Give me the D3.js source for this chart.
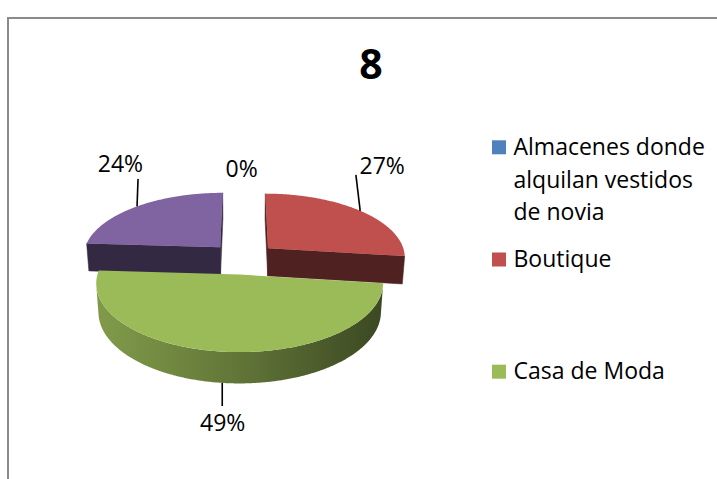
<!DOCTYPE html>
<html>
<head>
<meta charset="utf-8">
<script src="https://cdn.jsdelivr.net/npm/d3@7"></script>
<style>
  html, body { margin: 0; padding: 0; background: #ffffff; }
  svg { display: block; }
  text { font-family: "Open Sans", "Noto Sans", sans-serif; fill: #000; }
</style>
</head>
<body>
<svg id="chart" width="717" height="479"></svg>
<script>
// ---- data ----
const title = "8";
const categories = ["Almacenes donde alquilan vestidos de novia", "Boutique", "Casa de Moda", ""];
const values = [0, 27, 49, 24];
const colors = ["#4F81BD", "#C0504D", "#9BBB59", "#8064A2"];

// ---- 3D pie geometry ----
const cx = 243, cy = 258.5;      // screen position of the pie's centre
const R = 138;                   // radius (world units ~ px)
const H = 32;                    // thickness of the pie
const explode = 34;              // distance each slice is pulled out
const D = 1000;                  // camera distance (perspective)
const tilt = 27.5 * Math.PI / 180;
const sinT = Math.sin(tilt), cosT = Math.cos(tilt);
const cam = [0, D * sinT, -D * cosT];

function project(p) {
  const [x, y, z] = p;
  const Y = y * cosT + z * sinT;
  const Z = z * cosT - y * sinT;
  const s = D / (D + Z);
  return [cx + x * s, cy - Y * s];
}
function faces(n, p) {
  return n[0] * (cam[0] - p[0]) + n[1] * (cam[1] - p[1]) + n[2] * (cam[2] - p[2]) > 0;
}

const svg = d3.select("#chart");
const defs = svg.append("defs");

// chart frame
svg.append("rect")
  .attr("x", 8).attr("y", 18).attr("width", 760).attr("height", 520)
  .attr("fill", "none").attr("stroke", "#8a8a8a").attr("stroke-width", 2);

// title
svg.append("text")
  .attr("x", 371).attr("y", 78.5)
  .attr("text-anchor", "middle")
  .style("font-size", "41px").style("font-weight", "bold")
  .text(title);

const data = categories.map((c, i) => ({ name: c, value: values[i], color: colors[i], index: i }));
const total = d3.sum(values);
const pct = d3.format(".0%");
const arcs = d3.pie().sort(null).value(d => d.value)(data);

const color = d3.scaleOrdinal().domain(categories).range(colors);
const line = d3.line();

arcs.forEach(a => {
  a.mid = (a.startAngle + a.endAngle) / 2;
  a.ox = explode * Math.sin(a.mid);
  a.oz = explode * Math.cos(a.mid);
});
const rim = (a, t, y, r = R) => [a.ox + r * Math.sin(t), y, a.oz + r * Math.cos(t)];

// curved side shading: lighter on the left, darker on the right
const sideShade = d3.scaleLinear().domain([-1, 0, 1]).range([0.82, 0.62, 0.39]);
function scaled(c, f) {
  const k = d3.rgb(c);
  return d3.rgb(k.r * f, k.g * f, k.b * f).formatHex();
}

const gPie = svg.append("g");
// paint back slices first
const order = arcs.filter(a => a.endAngle - a.startAngle > 1e-6)
  .sort((a, b) => b.oz - a.oz);

order.forEach(a => {
  const base = color(a.data.name);
  const g = gPie.append("g");
  const step = Math.PI / 360;
  const n = Math.max(2, Math.ceil((a.endAngle - a.startAngle) / step));
  const thetas = d3.range(n + 1).map(i => a.startAngle + (a.endAngle - a.startAngle) * i / n);

  // outer curved side (only the part turned towards the camera)
  const vis = thetas.filter(t => faces([Math.sin(t), 0, Math.cos(t)], rim(a, t, 0)));
  if (vis.length > 1) {
    const top = vis.map(t => project(rim(a, t, 0)));
    const bot = vis.slice().reverse().map(t => project(rim(a, t, -H)));
    const pts = top.concat(bot);
    const gid = "side" + a.index;
    const grad = defs.append("linearGradient").attr("id", gid)
      .attr("gradientUnits", "userSpaceOnUse")
      .attr("x1", cx - R).attr("x2", cx + R).attr("y1", 0).attr("y2", 0);
    [-1, -0.5, 0, 0.5, 1].forEach(v => {
      grad.append("stop").attr("offset", (v + 1) / 2).attr("stop-color", scaled(base, sideShade(v)));
    });
    g.append("path").attr("d", line(pts) + "Z").attr("fill", `url(#${gid})`);
  }

  // flat radial faces
  const apexT = [a.ox, 0, a.oz], apexB = [a.ox, -H, a.oz];
  const radial = [
    { t: a.startAngle, n: [-Math.cos(a.startAngle), 0, Math.sin(a.startAngle)] },
    { t: a.endAngle, n: [Math.cos(a.endAngle), 0, -Math.sin(a.endAngle)] }
  ];
  radial.forEach(f => {
    if (faces(f.n, apexT)) {
      const pts = [apexT, rim(a, f.t, 0), rim(a, f.t, -H), apexB].map(project);
      g.append("path").attr("d", line(pts) + "Z")
        .attr("fill", scaled(base, 0.41))
        .attr("stroke", scaled(base, 0.41)).attr("stroke-width", 0.5);
    }
  });

  // top face
  const topPts = [project(apexT)].concat(thetas.map(t => project(rim(a, t, 0))));
  g.append("path").attr("d", line(topPts) + "Z").attr("fill", base);
});

// ---- data labels with leader lines ----
const labelLayout = {
  0: { line: null, text: [-1.3, -13] },
  1: { line: [-4.3, -36], text: [22, -37] },
  2: { line: [-2, 23], text: [-1.5, 48] },
  3: { line: [1, -27.5], text: [-16.6, -34] }
};
const gLab = svg.append("g");
arcs.forEach(a => {
  const front = Math.cos(a.mid) < 0;
  const anchor = project(rim(a, a.mid, front ? -H : 0));
  const lay = labelLayout[a.index];
  if (lay.line) {
    const x0 = front ? anchor[0] + lay.line[0] : anchor[0];
    gLab.append("line")
      .attr("x1", x0).attr("y1", anchor[1])
      .attr("x2", anchor[0] + lay.line[0]).attr("y2", anchor[1] + lay.line[1])
      .attr("stroke", "#000").attr("stroke-width", 1.6);
  }
  gLab.append("text")
    .attr("x", anchor[0] + lay.text[0]).attr("y", anchor[1] + lay.text[1])
    .attr("text-anchor", "middle")
    .style("font-size", "23px")
    .text(pct(a.data.value / total));
});

// ---- legend ----
const legendItems = data.filter(d => d.name !== "");
const legendY = d3.scaleLinear().domain([0, 1]).range([155, 267.2]);
const wrapChars = 17;
const gLeg = svg.append("g");
legendItems.forEach((d, i) => {
  const y = legendY(i);
  gLeg.append("rect")
    .attr("x", 492).attr("y", y - 14.7).attr("width", 14).attr("height", 14)
    .attr("fill", d.color);
  const t = gLeg.append("text").attr("x", 513.5).attr("y", y).style("font-size", "23px");
  // greedy word wrap on line length
  const lines = [];
  let cur = "";
  d.name.split(" ").forEach(w => {
    const test = cur ? cur + " " + w : w;
    if (test.length > wrapChars && cur) { lines.push(cur); cur = w; }
    else cur = test;
  });
  lines.push(cur);
  lines.forEach((l, k) => {
    t.append("tspan").attr("x", 513.5).attr("dy", k === 0 ? 0 : 32.5).text(l);
  });
});
</script>
</body>
</html>
